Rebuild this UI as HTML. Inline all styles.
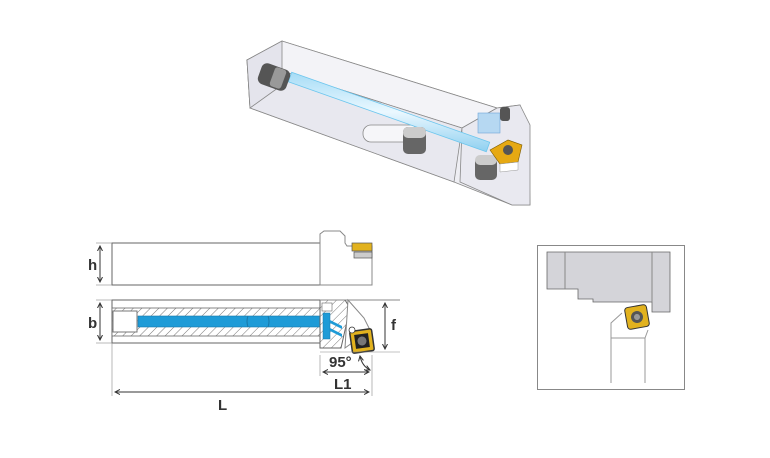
<!DOCTYPE html>
<html><head><meta charset="utf-8"><style>
html,body{margin:0;padding:0;background:#fff;}
svg{display:block;font-family:"Liberation Sans",sans-serif;}
</style></head><body>
<svg width="770" height="458" viewBox="0 0 770 458" xmlns="http://www.w3.org/2000/svg">
<defs>
<pattern id="hat" width="6" height="6" patternUnits="userSpaceOnUse" patternTransform="rotate(45)">
<rect width="6" height="6" fill="#fff"/><line x1="0" y1="0" x2="0" y2="6" stroke="#555" stroke-width="0.8"/>
</pattern>
<marker id="ar" markerWidth="6" markerHeight="6" refX="5" refY="3" orient="auto"><path d="M0,0.5 L5,3 L0,5.5" fill="none" stroke="#333" stroke-width="1"/></marker>
<marker id="al" markerWidth="6" markerHeight="6" refX="1" refY="3" orient="auto"><path d="M6,0.5 L1,3 L6,5.5" fill="none" stroke="#333" stroke-width="1"/></marker>
<linearGradient id="cyl" x1="0" y1="0" x2="0" y2="1"><stop offset="0" stop-color="#a6dcf6"/><stop offset="0.5" stop-color="#eaf8ff"/><stop offset="1" stop-color="#8fd0f0"/></linearGradient>
</defs>

<!-- 3D view -->
<g stroke="#888" stroke-width="0.8">
<polygon points="247,60 282,41 497,108 520,105 528,128 530,205 512,205 454,182 250,108" fill="#eeeef3"/>
<polygon points="247,60 282,41 497,108 462,128" fill="#f3f3f7"/>
<polygon points="247,60 462,128 454,182 250,108" fill="#e8e8ef"/>
<polygon points="247,60 282,41 282,85 250,108" fill="#e4e4ec"/>
<polygon points="462,128 497,108 520,105 530,125 530,205 512,205 460,182" fill="#e9e9f0"/>
<rect x="363" y="125" width="55" height="17" rx="8" fill="#f6f6f9"/>
</g>
<polygon points="291.7,72.3 489.7,142.3 486.3,151.7 288.3,81.7" fill="url(#cyl)" stroke="#6cc6ee" stroke-width="0.8"/>
<g>
<rect x="259" y="66" width="30" height="22" rx="6" fill="#555" transform="rotate(20 274 77)"/>
<rect x="272" y="68" width="12" height="20" rx="3" fill="#999" transform="rotate(20 278 78)"/>
<rect x="403" y="127" width="23" height="27" rx="5" fill="#666"/>
<rect x="403" y="127" width="23" height="11" rx="5" fill="#ccc"/>
<rect x="475" y="157" width="22" height="23" rx="5" fill="#666"/>
<rect x="475" y="155" width="22" height="10" rx="5" fill="#ccc"/>
<rect x="478" y="113" width="22" height="20" fill="#b6d8f2" stroke="#6fa6d8" stroke-width="0.6"/>
<rect x="500" y="107" width="10" height="14" rx="3" fill="#555"/>
<polygon points="490,150 508,140 522,145 518,162 500,164" fill="#e6a913" stroke="#7a5a00" stroke-width="0.6"/>
<polygon points="500,164 518,162 518,170 500,172" fill="#fff" stroke="#999" stroke-width="0.5"/>
<circle cx="508" cy="150" r="5" fill="#555"/>
</g>

<!-- Top (side) view -->
<g stroke="#666" stroke-width="1" fill="#fff">
<rect x="112" y="243" width="208" height="42"/>
<polygon points="320,285 320,234 324,231 340,231 345,236 345,243 347,246 372,246 372,285" stroke="#888"/>
</g>
<rect x="352" y="243" width="20" height="8" fill="#e2b21e" stroke="#555" stroke-width="0.7"/>
<rect x="354" y="252" width="18" height="6" fill="#ccc" stroke="#555" stroke-width="0.7"/>
<line x1="100" y1="246" x2="100" y2="282" stroke="#333" marker-start="url(#al)" marker-end="url(#ar)"/>
<line x1="96" y1="243" x2="112" y2="243" stroke="#888" stroke-width="0.6"/>
<line x1="96" y1="285" x2="112" y2="285" stroke="#888" stroke-width="0.6"/>
<text x="88" y="270" font-size="15" font-weight="bold" fill="#333">h</text>

<!-- Section view -->
<g stroke="#666" stroke-width="1">
<rect x="112" y="300" width="208" height="43" fill="#fff"/>
<rect x="112" y="308" width="208" height="28" fill="url(#hat)" stroke="#666" stroke-width="0.8"/>
<rect x="138" y="316" width="182" height="11" fill="#1e9bd7" stroke="#1877a8" stroke-width="0.6"/>
<rect x="113" y="311" width="24" height="21" fill="#fff" stroke="#777"/>
<polygon points="320,300 345,300 350,308 341,348 320,348" fill="url(#hat)"/>
<polygon points="348,300 364,318 370,330 345,348" fill="#fff" stroke="#888"/>
<line x1="320" y1="300" x2="400" y2="300" stroke="#888"/>
</g>
<rect x="322" y="303" width="10" height="8" fill="#fff" stroke="#666" stroke-width="0.6"/>
<rect x="323" y="313" width="7" height="26" fill="#1e9bd7" stroke="#1877a8" stroke-width="0.5"/>
<polygon points="330,320 342,326 342,329 330,323" fill="#1e9bd7"/>
<polygon points="330,328 342,334 342,337 330,331" fill="#1e9bd7"/>
<path d="M248,316 Q246,321 248,327 M268,316 Q270,321 268,327" stroke="#1877a8" fill="none"/>
<g transform="rotate(-8 362 341)">
<rect x="351" y="330" width="22" height="22" rx="2" fill="#e2b21e" stroke="#333" stroke-width="1.5"/>
<rect x="355" y="334" width="14" height="14" fill="#222"/>
<circle cx="362" cy="341" r="4.5" fill="#777"/>
</g>
<circle cx="352" cy="330" r="3" fill="#fff" stroke="#333" stroke-width="0.8"/>
<line x1="100" y1="303" x2="100" y2="340" stroke="#333" marker-start="url(#al)" marker-end="url(#ar)"/>
<line x1="96" y1="300" x2="112" y2="300" stroke="#888" stroke-width="0.6"/>
<line x1="96" y1="343" x2="112" y2="343" stroke="#888" stroke-width="0.6"/>
<text x="88" y="328" font-size="15" font-weight="bold" fill="#333">b</text>
<line x1="385" y1="303" x2="385" y2="349" stroke="#333" marker-start="url(#al)" marker-end="url(#ar)"/>
<line x1="320" y1="352" x2="400" y2="352" stroke="#888" stroke-width="0.6"/>
<text x="391" y="330" font-size="15" font-weight="bold" fill="#333">f</text>
<text x="329" y="367" font-size="15" font-weight="bold" fill="#333">95°</text>
<path d="M360,356 Q362,366 370,370" fill="none" stroke="#333" marker-start="url(#al)" marker-end="url(#ar)"/>
<line x1="320" y1="355" x2="320" y2="376" stroke="#888" stroke-width="0.6"/>
<line x1="372" y1="355" x2="372" y2="396" stroke="#888" stroke-width="0.6"/>
<line x1="112" y1="343" x2="112" y2="396" stroke="#888" stroke-width="0.6"/>
<line x1="323" y1="372" x2="369" y2="372" stroke="#333" marker-start="url(#al)" marker-end="url(#ar)"/>
<text x="334" y="389" font-size="15" font-weight="bold" fill="#333">L1</text>
<line x1="115" y1="392" x2="369" y2="392" stroke="#333" marker-start="url(#al)" marker-end="url(#ar)"/>
<text x="218" y="410" font-size="15" font-weight="bold" fill="#333">L</text>

<!-- Right detail box -->
<rect x="537.5" y="245.5" width="147" height="144" fill="#fff" stroke="#888"/>
<polygon points="547,252 670,252 670,312 652,312 652,302 593,302 593,299 578,299 578,289 547,289" fill="#d4d4d9" stroke="#666" stroke-width="0.8"/>
<line x1="565" y1="252" x2="565" y2="289" stroke="#888"/>
<line x1="652" y1="252" x2="652" y2="302" stroke="#888"/>
<polyline points="611,383 611,323 622,313" fill="none" stroke="#999"/>
<polyline points="611,338 645,338 648,330" fill="none" stroke="#999"/>
<line x1="645" y1="338" x2="645" y2="383" stroke="#999"/>
<g transform="rotate(-10 637 317)">
<rect x="626" y="306" width="22" height="22" rx="3" fill="#e2b21e" stroke="#333" stroke-width="1"/>
<circle cx="637" cy="317" r="6" fill="#555"/><circle cx="637" cy="317" r="3" fill="#999"/>
</g>
</svg>
</body></html>
